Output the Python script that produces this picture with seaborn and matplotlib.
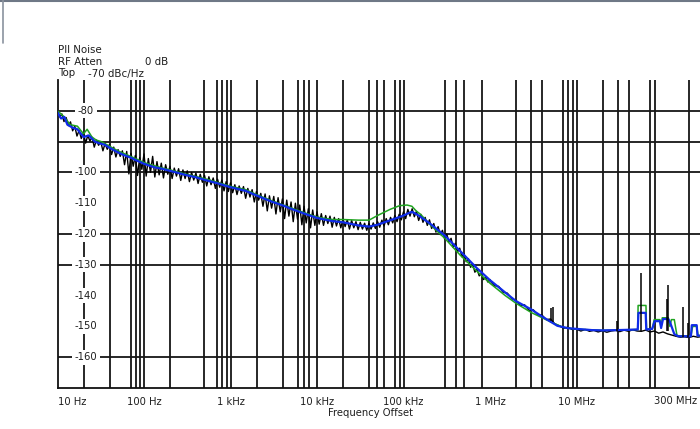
import numpy as np
import matplotlib
matplotlib.use("Agg")
import matplotlib.pyplot as plt
from matplotlib.lines import Line2D
from matplotlib.ticker import NullLocator
import seaborn as sns

# ---- averaged trace (blue) ----
blue_freq = [10, 11, 12, 13, 15, 17, 20, 23, 27, 30,
             35, 40, 50, 60, 70, 80, 100, 130, 160, 200,
             250, 300, 400, 500, 700, 1e3, 1.5e3, 2e3, 3e3, 4e3,
             5e3, 7e3, 1e4, 1.5e4, 2e4, 3e4, 4e4, 5e4, 6e4, 8e4,
             1e5, 1.15e5, 1.25e5, 1.35e5, 1.5e5, 2e5, 3e5, 4.5e5, 7e5, 1e6,
             1.5e6, 2e6, 3e6, 4e6, 6e6, 8e6, 1e7, 1.5e7, 2e7, 3e7,
             4e7, 5.1e7, 5.2e7, 6.3e7, 6.4e7, 7.5e7, 8e7, 9.2e7, 9.5e7, 1e8,
             1.15e8, 1.2e8, 1.35e8, 1.5e8, 2.1e8, 2.15e8, 2.45e8, 2.5e8, 3e8]
blue_db = [-80.5, -82.5, -82.0, -84.5, -85.5, -86.0, -88.5, -88.0, -90.0, -90.5,
           -91.0, -92.0, -93.5, -94.5, -95.2, -96.0, -97.2, -98.3, -98.8, -99.5,
           -100.2, -100.8, -101.6, -102.4, -103.5, -104.8, -106.0, -107.5, -109.5, -110.7,
           -111.8, -113.3, -114.8, -115.8, -116.2, -117.2, -117.6, -117.0, -116.2, -115.0,
           -114.0, -113.2, -112.8, -113.3, -114.0, -116.5, -120.5, -125.5, -131.0, -135.0,
           -139.0, -141.8, -144.5, -146.8, -149.8, -150.6, -150.8, -151.2, -151.3, -151.2,
           -151.1, -151.0, -145.6, -145.6, -151.0, -150.8, -148.3, -148.3, -150.5, -147.6,
           -147.6, -148.5, -152.5, -153.2, -153.2, -149.6, -149.6, -153.0, -153.0]

# ---- second averaged trace (green) ----
green_freq = [10, 12, 14, 17, 20, 22, 25, 28, 32, 40,
              50, 60, 80, 100, 130, 160, 200, 300, 500, 700,
              1e3, 1.5e3, 2e3, 3e3, 5e3, 7e3, 1e4, 1.5e4, 2e4, 3e4,
              4e4, 5e4, 7e4, 9e4, 1.1e5, 1.25e5, 1.4e5, 1.6e5, 2e5, 3e5,
              4.5e5, 7e5, 1e6, 1.5e6, 2e6, 3e6, 5e6, 7e6, 1e7, 2e7,
              4e7, 5.1e7, 5.15e7, 6.35e7, 6.45e7, 7.5e7, 7.9e7, 9.2e7, 9.5e7, 9.8e7,
              1.15e8, 1.2e8, 1.25e8, 1.35e8, 1.45e8, 2.1e8, 2.2e8, 2.45e8, 2.55e8, 3e8]
green_db = [-80.0, -82.0, -84.5, -85.0, -87.5, -86.0, -88.5, -89.5, -90.0, -91.5,
            -93.0, -94.0, -95.5, -96.8, -97.8, -98.5, -99.2, -100.5, -102.0, -103.2,
            -104.5, -105.6, -107.2, -109.2, -111.5, -113.0, -114.5, -115.3, -115.3, -115.5,
            -115.5, -114.0, -112.0, -110.8, -110.6, -111.0, -112.5, -113.8, -116.8, -121.4,
            -126.8, -132.0, -136.0, -140.0, -142.5, -145.5, -148.5, -150.3, -150.9, -151.3,
            -151.1, -151.0, -143.2, -143.2, -151.0, -150.8, -147.8, -147.8, -150.5, -147.2,
            -147.2, -150.0, -147.8, -147.8, -153.0, -153.2, -150.0, -150.0, -153.0, -153.0]

# ---- raw sweep (black), 10 Hz .. 1 MHz, 40 points per decade ----
black_lo_db = [
    # 10 Hz .. 100 Hz
    -80.0, -82.0, -81.0, -83.5, -82.2, -84.8, -83.6, -86.5, -85.0, -88.2,
    -86.4, -89.0, -87.2, -90.5, -88.0, -89.8, -88.6, -91.8, -89.5, -91.2,
    -90.0, -93.0, -90.6, -92.5, -91.0, -94.2, -91.8, -95.0, -92.6, -94.8,
    -93.0, -97.5, -93.2, -100.5, -93.8, -98.0, -94.5, -101.0, -95.2, -99.0,
    # 100 Hz .. 1 kHz
    -94.0, -101.2, -95.5, -100.0, -94.8, -101.5, -96.5, -100.8, -97.0, -101.8,
    -97.5, -100.6, -98.0, -102.0, -98.6, -101.2, -98.8, -102.6, -99.2, -102.0,
    -99.5, -103.0, -100.0, -102.5, -100.2, -103.6, -100.6, -103.2, -101.0, -104.4,
    -101.4, -104.0, -101.8, -105.2, -102.2, -104.8, -102.5, -106.0, -103.0, -106.2,
    # 1 kHz .. 10 kHz
    -103.4, -106.6, -104.0, -107.2, -104.4, -106.8, -104.6, -108.4, -105.2, -108.0,
    -105.6, -109.6, -106.2, -109.0, -106.8, -111.0, -107.0, -112.5, -107.6, -111.6,
    -107.8, -113.5, -108.2, -112.8, -108.6, -115.0, -109.0, -114.2, -109.6, -116.0,
    -110.0, -115.2, -110.6, -117.0, -111.0, -116.4, -111.8, -118.0, -112.2, -117.2,
    # 10 kHz .. 100 kHz
    -112.8, -116.8, -113.4, -117.2, -114.0, -116.6, -114.2, -117.8, -114.6, -117.4,
    -115.0, -118.0, -115.2, -117.6, -115.4, -118.4, -115.6, -118.0, -116.0, -118.6,
    -116.2, -118.4, -116.5, -118.8, -116.6, -118.4, -116.4, -118.2, -116.0, -117.8,
    -115.5, -117.4, -115.0, -117.0, -114.6, -116.4, -114.0, -116.0, -113.6, -115.4,
    # 100 kHz .. 1 MHz
    -112.8, -115.0, -112.0, -114.2, -111.8, -114.4, -112.6, -115.6, -113.6, -116.2,
    -114.6, -117.2, -115.4, -118.2, -116.6, -119.4, -117.6, -120.2, -118.8, -121.6,
    -120.0, -122.6, -121.4, -124.4, -123.0, -125.8, -124.6, -127.4, -126.4, -129.0,
    -128.0, -130.8, -129.8, -132.4, -131.4, -133.6, -132.8, -134.8, -134.0, -135.6,
    -134.8]
# raw sweep, 1 MHz .. 316 MHz, 20 points per decade
black_hi_db = [
    -135.2, -136.8, -137.0, -138.9, -139.2, -141.0, -141.5, -143.2, -143.0, -144.8,
    -144.6, -146.2, -146.3, -147.8, -147.6, -149.2, -149.8, -150.6, -150.3, -151.0,
    -150.9, -151.5, -151.0, -151.6, -151.3, -151.8, -151.4, -151.9, -151.5, -151.3,
    -151.7, -151.2, -151.6, -151.1, -151.5, -151.6, -151.2, -151.8, -151.5, -152.2,
    -151.8, -152.4, -152.8, -153.2, -153.5, -153.4, -153.6, -153.2, -153.5, -153.3,
    -153.4]

# discrete spurs on the raw sweep
spur_freq = [5.1e6, 5.35e6, 2.9e7, 5.6e7, 1.1e8, 1.15e8, 1.7e8, 1.96e8]
spur_top_db = [-144.0, -143.7, -148.3, -132.5, -141.0, -136.6, -143.6, -148.8]
spur_floor_db = [-148.2, -148.6, -151.4, -151.5, -151.6, -151.4, -153.5, -153.4]

# axes decorations
decade_ticks = [10, 100, 1e3, 1e4, 1e5, 1e6, 1e7]
decade_labels = ["10 Hz", "100 Hz", "1 kHz", "10 kHz", "100 kHz", "1 MHz", "10 MHz"]
stop_freq = 3e8
stop_label = "300 MHz"
vgrid_freq = [20, 40, 70, 80, 90, 100, 200, 500, 700, 800, 900, 1e3,
              2e3, 4e3, 6e3, 7e3, 8e3, 1e4, 2e4, 4e4, 5e4, 6e4, 8e4, 9e4, 1e5,
              3e5, 4e5, 5e5, 8e5, 2e6, 3e6, 4e6, 7e6, 8e6, 9e6, 1e7,
              2e7, 3e7, 4e7, 7e7, 8e7, 2e8]
hgrid_db = [-80, -90, -100, -120, -130, -160]
ylabel_db = [-80, -100, -110, -120, -130, -140, -150, -160]

sns.set_style("white")
plt.rcParams["font.family"] = ["DejaVu Sans"]
plt.rcParams["axes.unicode_minus"] = False

W, H = 700, 429
fig = plt.figure(figsize=(W / 100, H / 100), dpi=100)
fig.patch.set_facecolor("white")
ax = fig.add_axes([57.5 / W, (H - 388) / H, (704.3 - 57.5) / W, (388 - 80) / H])
ax.set_facecolor("white")

grid_kw = dict(color="#161616", lw=1.3, zorder=1)
for f in vgrid_freq:
    ax.axvline(f, **grid_kw)
for lv in hgrid_db:
    ax.axhline(lv, **grid_kw)

black_freq = np.concatenate([np.geomspace(10, 1e6, len(black_lo_db)),
                             np.geomspace(1e6, 10 ** 8.5, len(black_hi_db))])
black_db = np.concatenate([black_lo_db, black_hi_db])

sns.lineplot(x=black_freq, y=black_db, ax=ax, color="black", lw=1.0,
             estimator=None, sort=False, zorder=2)
sns.lineplot(x=green_freq, y=green_db, ax=ax, color="#1fa31f", lw=1.1,
             estimator=None, sort=False, zorder=3)
sns.lineplot(x=blue_freq, y=blue_db, ax=ax, color="#0f2be8", lw=1.6,
             estimator=None, sort=False, zorder=4)
ax.vlines(spur_freq, spur_floor_db, spur_top_db, color="black", lw=1.1, zorder=5)

ax.set_xscale("log")
ax.set_xlim(10, stop_freq)
ax.set_ylim(-170, -70)
ax.xaxis.set_minor_locator(NullLocator())
ax.set_xticks(decade_ticks)
ax.set_xticklabels(decade_labels)
ax.set_yticks([])
ax.set_xlabel("")
ax.set_ylabel("")
ax.tick_params(axis="x", length=0, pad=6.5, labelsize=7.2, labelcolor="#1e1e1e")
ax.get_xticklabels()[0].set_horizontalalignment("left")

# stop-frequency label, kept inside the window
ax.annotate(stop_label, xy=(stop_freq, 0), xycoords=("data", "axes fraction"),
            xytext=(-7, -8.5), textcoords="offset pixels", ha="right", va="top",
            fontsize=7.2, color="#1e1e1e", annotation_clip=False)

for side in ("top", "right"):
    ax.spines[side].set_visible(False)
for side in ("left", "bottom"):
    ax.spines[side].set_color("#111111")
    ax.spines[side].set_linewidth(1.3)

ytrans = ax.get_yaxis_transform()
for lv in ylabel_db:
    ax.text(0.0441, lv, f"{lv}", transform=ytrans, ha="center", va="center",
            fontsize=7.2, color="#1e1e1e", zorder=6,
            bbox=dict(facecolor="white", edgecolor="none", pad=1.8))

fig.text(370 / W, 1 - 413 / H, "Frequency Offset", ha="center", va="center",
         fontsize=7.2, color="#1e1e1e")

hdr_kw = dict(ha="left", va="center", fontsize=7.4, color="#1e1e1e")
fig.text(58 / W, 1 - 50 / H, "Pll Noise", **hdr_kw)
fig.text(58 / W, 1 - 62 / H, "RF Atten", **hdr_kw)
fig.text(145 / W, 1 - 62 / H, "0 dB", **hdr_kw)
fig.text(58 / W, 1 - 73.5 / H, "Top", **hdr_kw)
fig.text(88 / W, 1 - 73.5 / H, "-70 dBc/Hz", **hdr_kw)

# window frame
fig.add_artist(Line2D([0, 1], [1 - 0.5 / H, 1 - 0.5 / H], transform=fig.transFigure,
                      color="#6f7886", lw=1.5))
fig.add_artist(Line2D([2.5 / W, 2.5 / W], [1, 1 - 43 / H], transform=fig.transFigure,
                      color="#8a929e", lw=1.2))

fig.savefig("out.png", dpi=100)
